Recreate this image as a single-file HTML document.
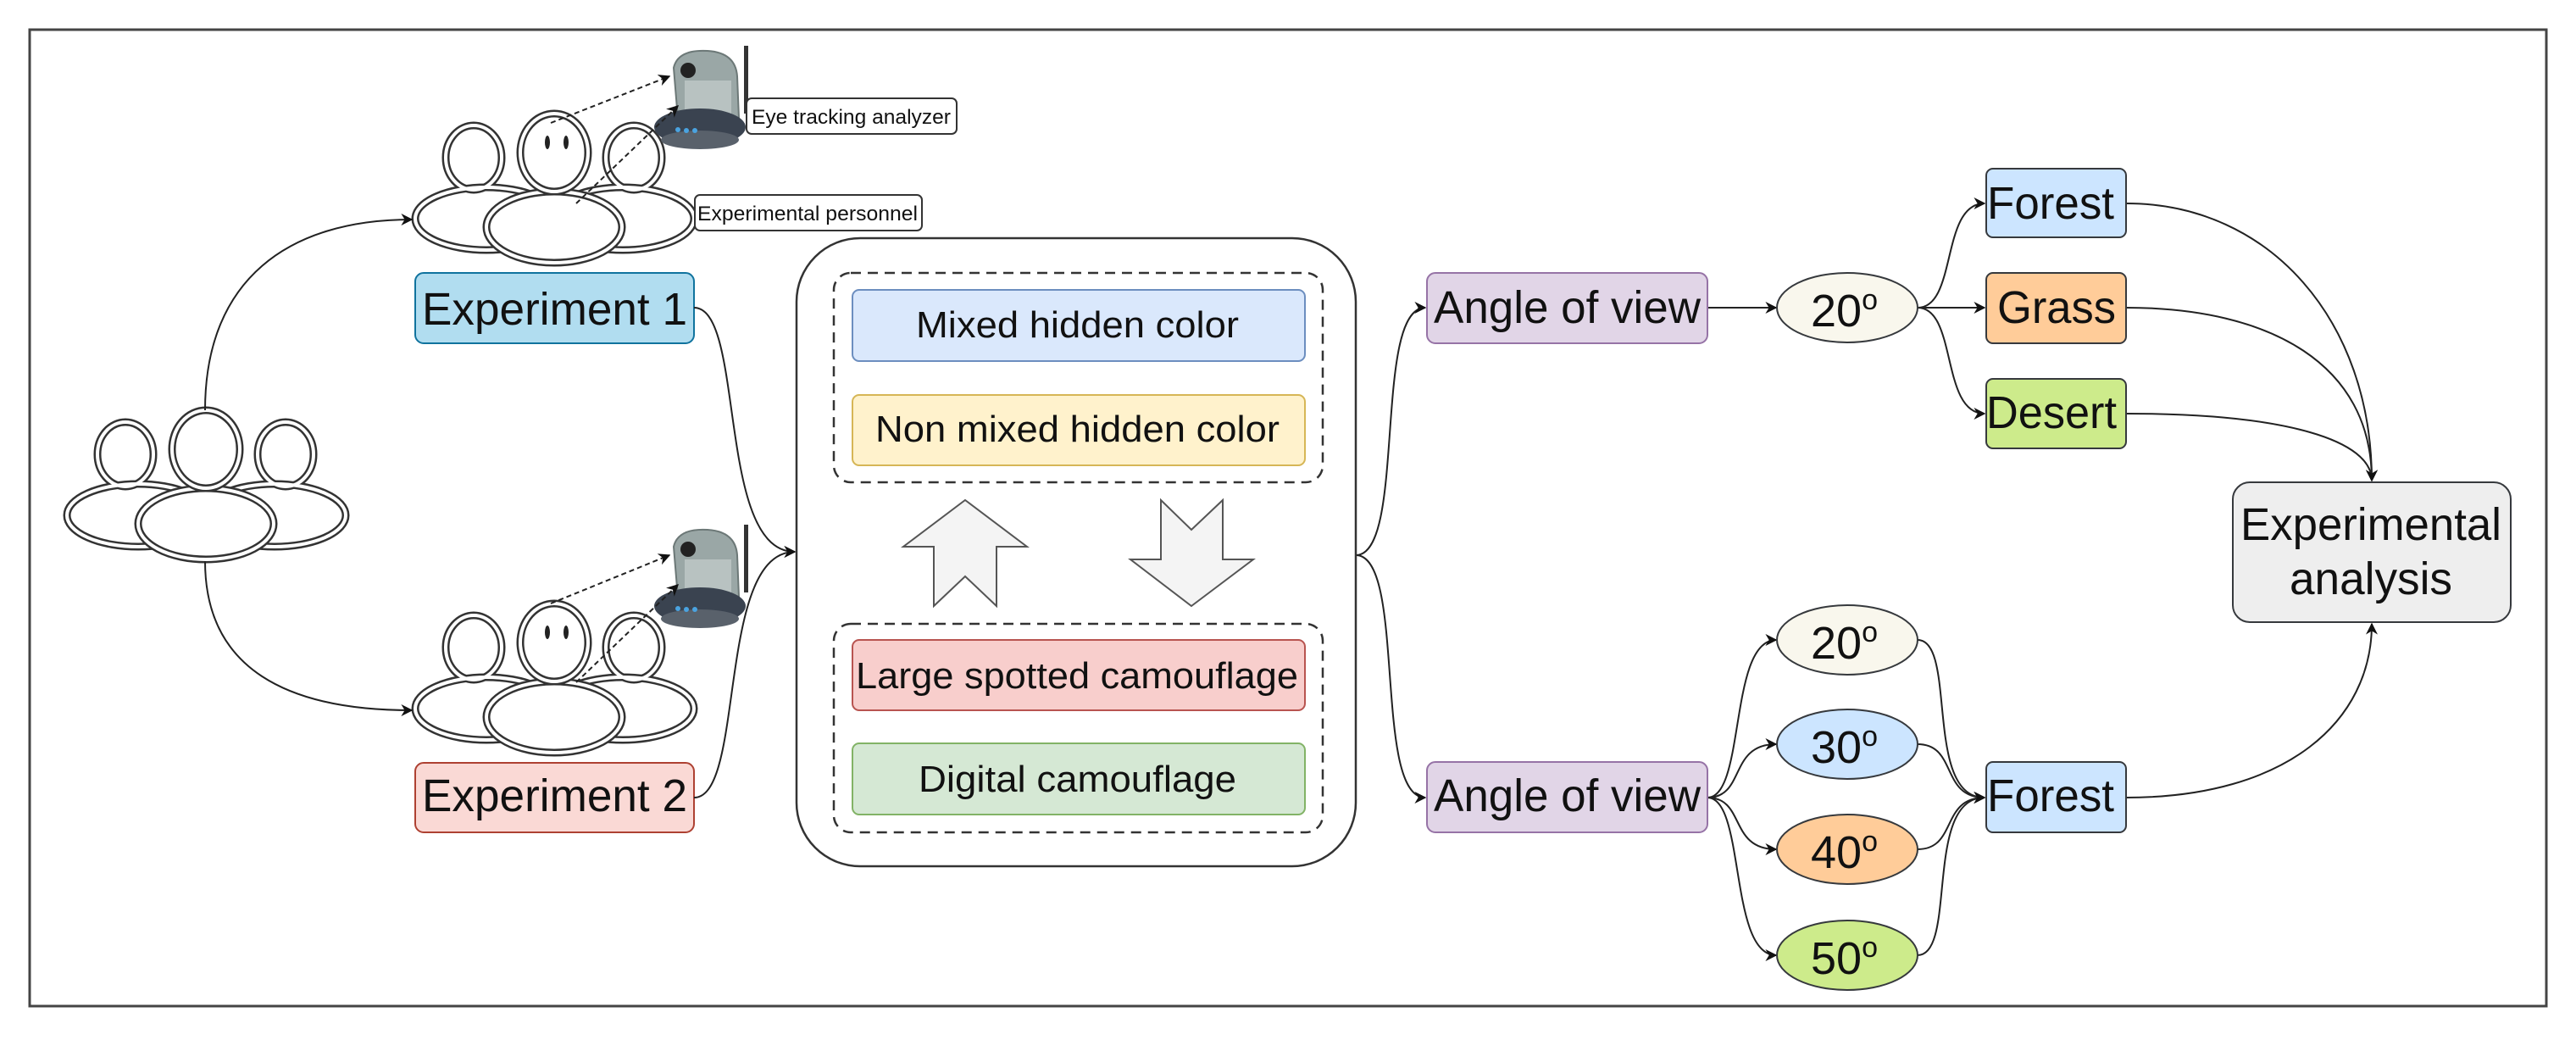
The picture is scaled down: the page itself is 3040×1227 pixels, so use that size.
<!DOCTYPE html>
<html><head><meta charset="utf-8"><style>
html,body{margin:0;padding:0;background:#fff;}
svg{display:block;}
text{font-family:"Liberation Sans",Arial,sans-serif;fill:#111;}
</style></head><body>
<svg width="3040" height="1227" viewBox="0 0 3040 1227" xmlns="http://www.w3.org/2000/svg">
<defs>
<marker id="ar" viewBox="0 0 10 10" refX="9" refY="5" markerWidth="14" markerHeight="14" markerUnits="userSpaceOnUse" orient="auto">
<path d="M0,0 L10,5 L0,10 L3,5 z" fill="#111"/></marker>
<g id="ppl">
<g fill="none" stroke="#333" stroke-width="9">
<ellipse cx="148" cy="536" rx="33" ry="38"/>
<ellipse cx="337" cy="536" rx="33" ry="38"/>
<ellipse cx="163" cy="608" rx="84" ry="37"/>
<ellipse cx="324" cy="608" rx="84" ry="37"/>
</g>
<g fill="none" stroke="#fff" stroke-width="4">
<ellipse cx="148" cy="536" rx="33" ry="38"/>
<ellipse cx="337" cy="536" rx="33" ry="38"/>
<ellipse cx="163" cy="608" rx="84" ry="37"/>
<ellipse cx="324" cy="608" rx="84" ry="37"/>
</g>
<ellipse cx="243" cy="618" rx="80" ry="42" fill="#fff" stroke="#333" stroke-width="9"/>
<ellipse cx="243" cy="618" rx="80" ry="42" fill="none" stroke="#fff" stroke-width="4"/>
<ellipse cx="243" cy="530" rx="40" ry="46" fill="#fff" stroke="#333" stroke-width="9"/>
<ellipse cx="243" cy="530" rx="40" ry="46" fill="none" stroke="#fff" stroke-width="4"/>
</g>
<g id="cam">
<path d="M795,80 Q800,58 835,60 Q868,62 870,90 L872,140 L800,140 Z" fill="#9aa7a6" stroke="#6c7877" stroke-width="2"/>
<rect x="808" y="95" width="55" height="40" fill="#b8c2c1"/>
<circle cx="812" cy="83" r="9" fill="#222"/>
<ellipse cx="826" cy="150" rx="54" ry="22" fill="#3a4350"/>
<ellipse cx="826" cy="165" rx="46" ry="11" fill="#59616b"/>
<circle cx="800" cy="153" r="3" fill="#4aa3e0"/><circle cx="810" cy="154" r="3" fill="#4aa3e0"/><circle cx="820" cy="154" r="3" fill="#4aa3e0"/>
<rect x="878" y="54" width="5" height="80" fill="#333"/>
</g>
</defs>
<rect x="35" y="35" width="2970" height="1152" fill="#fff" stroke="#444" stroke-width="3"/>

<use href="#ppl"/>
<use href="#ppl" transform="translate(411,-350)"/>
<use href="#ppl" transform="translate(411,228)"/>
<g fill="#222">
<ellipse cx="646" cy="168" rx="3" ry="8"/><ellipse cx="668" cy="168" rx="3" ry="8"/>
<ellipse cx="646" cy="746" rx="3" ry="8"/><ellipse cx="668" cy="746" rx="3" ry="8"/>
</g>
<use href="#cam"/>
<use href="#cam" transform="translate(0,565)"/>
<g stroke="#222" stroke-width="2" stroke-dasharray="6,4" fill="none" marker-end="url(#ar)">
<path d="M650,145 L790,90"/>
<path d="M680,240 L800,125"/>
<path d="M650,712 L790,655"/>
<path d="M680,805 L800,690"/>
</g>
<rect x="881" y="116" width="248" height="42" rx="6" fill="#fff" stroke="#333" stroke-width="2"/>
<text x="887" y="146" font-size="24" textLength="235" lengthAdjust="spacingAndGlyphs">Eye tracking analyzer</text>
<rect x="820" y="230" width="268" height="42" rx="6" fill="#fff" stroke="#333" stroke-width="2"/>
<text x="823" y="260" font-size="24" textLength="260" lengthAdjust="spacingAndGlyphs">Experimental personnel</text>

<rect x="490" y="322" width="329" height="83" rx="10" fill="#b1ddf0" stroke="#10739e" stroke-width="2"/>
<text x="498" y="383" font-size="54" textLength="313" lengthAdjust="spacingAndGlyphs">Experiment 1</text>
<rect x="490" y="900" width="329" height="82" rx="10" fill="#fad9d5" stroke="#ae4132" stroke-width="2"/>
<text x="498" y="957" font-size="54" textLength="313" lengthAdjust="spacingAndGlyphs">Experiment 2</text>

<g fill="none" stroke="#222" stroke-width="2" marker-end="url(#ar)">
<path d="M242,484 C242,330 340,259 486,259"/>
<path d="M242,662 C242,790 340,838 486,838"/>
<path d="M819,363 C880,363 845,651 938,651"/>
<path d="M819,941 C880,941 845,651 938,651"/>
<path d="M1600,655 C1660,655 1620,363 1682,363"/>
<path d="M1600,655 C1660,655 1620,941 1682,941"/>
<path d="M2015,363 L2096,363"/>
<path d="M2263,363 C2310,363 2290,240 2342,240"/>
<path d="M2263,363 L2342,363"/>
<path d="M2263,363 C2310,363 2290,488 2342,488"/>
<path d="M2509,240 C2680,240 2799,380 2799,567"/>
<path d="M2509,363 C2680,363 2799,430 2799,567"/>
<path d="M2509,488 C2700,488 2799,520 2799,567"/>
<path d="M2509,941 C2700,941 2799,850 2799,736"/>
<path d="M2015,941 C2060,941 2040,755 2096,755"/>
<path d="M2015,941 C2060,941 2040,878 2096,878"/>
<path d="M2015,941 C2060,941 2040,1002 2096,1002"/>
<path d="M2015,941 C2060,941 2040,1127 2096,1127"/>
<path d="M2263,755 C2310,755 2270,941 2342,941"/>
<path d="M2263,878 C2310,878 2290,941 2342,941"/>
<path d="M2263,1002 C2310,1002 2290,941 2342,941"/>
<path d="M2263,1127 C2310,1127 2270,941 2342,941"/>
</g>

<rect x="940" y="281" width="660" height="741" rx="75" fill="#fff" stroke="#333" stroke-width="2.5"/>
<rect x="984" y="322" width="577" height="247" rx="20" fill="none" stroke="#333" stroke-width="2.5" stroke-dasharray="12,8"/>
<rect x="984" y="736" width="577" height="246" rx="20" fill="none" stroke="#333" stroke-width="2.5" stroke-dasharray="12,8"/>
<rect x="1006" y="342" width="534" height="84" rx="8" fill="#dae8fc" stroke="#6c8ebf" stroke-width="2"/>
<text x="1081" y="398" font-size="44" textLength="381" lengthAdjust="spacingAndGlyphs">Mixed hidden color</text>
<rect x="1006" y="466" width="534" height="83" rx="8" fill="#fff2cc" stroke="#d6b656" stroke-width="2"/>
<text x="1033" y="521" font-size="44" textLength="477" lengthAdjust="spacingAndGlyphs">Non mixed hidden color</text>
<rect x="1006" y="755" width="534" height="83" rx="8" fill="#f8cecc" stroke="#b85450" stroke-width="2"/>
<text x="1010" y="812" font-size="44" textLength="522" lengthAdjust="spacingAndGlyphs">Large spotted camouflage</text>
<rect x="1006" y="877" width="534" height="84" rx="8" fill="#d5e8d4" stroke="#82b366" stroke-width="2"/>
<text x="1084" y="934" font-size="44" textLength="375" lengthAdjust="spacingAndGlyphs">Digital camouflage</text>
<path d="M1139,590 L1212,645 L1176,645 L1176,715 L1139,680 L1102,715 L1102,645 L1066,645 Z" fill="#f4f4f4" stroke="#555" stroke-width="2"/>
<path d="M1406,715 L1479,660 L1443,660 L1443,590 L1406,625 L1370,590 L1370,660 L1334,660 Z" fill="#f4f4f4" stroke="#555" stroke-width="2"/>

<rect x="1684" y="322" width="331" height="83" rx="10" fill="#e1d5e7" stroke="#9673a6" stroke-width="2"/>
<text x="1692" y="381" font-size="54" textLength="315" lengthAdjust="spacingAndGlyphs">Angle of view</text>
<rect x="1684" y="899" width="331" height="83" rx="10" fill="#e1d5e7" stroke="#9673a6" stroke-width="2"/>
<text x="1692" y="957" font-size="54" textLength="315" lengthAdjust="spacingAndGlyphs">Angle of view</text>

<g stroke="#36393d" stroke-width="2">
<ellipse cx="2180" cy="363" rx="83" ry="41" fill="#f9f7ed"/>
<ellipse cx="2180" cy="755" rx="83" ry="41" fill="#f9f7ed"/>
<ellipse cx="2180" cy="878" rx="83" ry="41" fill="#cce5ff"/>
<ellipse cx="2180" cy="1002" rx="83" ry="41" fill="#ffcc99"/>
<ellipse cx="2180" cy="1127" rx="83" ry="41" fill="#cdeb8b"/>
<rect x="2344" y="199" width="165" height="81" rx="8" fill="#cce5ff"/>
<rect x="2344" y="322" width="165" height="83" rx="8" fill="#ffcc99"/>
<rect x="2344" y="447" width="165" height="82" rx="8" fill="#cdeb8b"/>
<rect x="2344" y="899" width="165" height="83" rx="8" fill="#cce5ff"/>
<rect x="2635" y="569" width="328" height="165" rx="20" fill="#eeeeee"/>
</g>
<g font-size="54">
<text x="2137" y="385">20<tspan font-size="34" dy="-20">o</tspan></text>
<text x="2137" y="777">20<tspan font-size="34" dy="-20">o</tspan></text>
<text x="2137" y="900">30<tspan font-size="34" dy="-20">o</tspan></text>
<text x="2137" y="1024">40<tspan font-size="34" dy="-20">o</tspan></text>
<text x="2137" y="1149">50<tspan font-size="34" dy="-20">o</tspan></text>
<text x="2345" y="258" textLength="150" lengthAdjust="spacingAndGlyphs">Forest</text>
<text x="2357" y="381" textLength="140" lengthAdjust="spacingAndGlyphs">Grass</text>
<text x="2344" y="505" textLength="154" lengthAdjust="spacingAndGlyphs">Desert</text>
<text x="2345" y="957" textLength="150" lengthAdjust="spacingAndGlyphs">Forest</text>
<text x="2644" y="637" textLength="308" lengthAdjust="spacingAndGlyphs">Experimental</text>
<text x="2702" y="701" textLength="192" lengthAdjust="spacingAndGlyphs">analysis</text>
</g>
</svg>
</body></html>
